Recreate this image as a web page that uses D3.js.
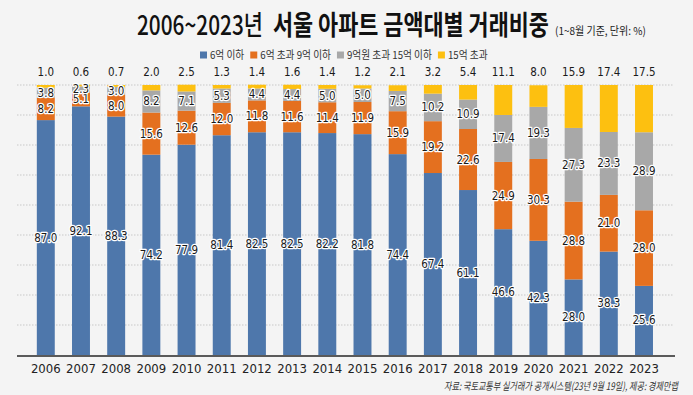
<!DOCTYPE html>
<html>
<head>
<meta charset="utf-8">
<script src="https://cdn.jsdelivr.net/npm/d3@7"></script>
<style>
  html, body { margin: 0; padding: 0; background: #f4f4f4; }
  svg { display: block; }
</style>
</head>
<body>
<div id="chart"></div>
<script>
const years = ["2006","2007","2008","2009","2010","2011","2012","2013","2014","2015","2016","2017","2018","2019","2020","2021","2022","2023"];

const seriesNames = ["6억 이하", "6억 초과 9억 이하", "9억원 초과 15억 이하", "15억 초과"];
const seriesColors = ["#4e77ab", "#e4701f", "#a8a8a8", "#fdc010"];

const under6 = [87.0, 92.1, 88.3, 74.2, 77.9, 81.4, 82.5, 82.5, 82.2, 81.8, 74.4, 67.4, 61.1, 46.6, 42.3, 28.0, 38.3, 25.6];
const from6to9 = [8.2, 5.1, 8.0, 15.6, 12.6, 12.0, 11.8, 11.6, 11.4, 11.9, 15.9, 19.2, 22.6, 24.9, 30.3, 28.8, 21.0, 28.0];
const from9to15 = [3.8, 2.3, 3.0, 8.2, 7.1, 5.3, 4.4, 4.4, 5.0, 5.0, 7.5, 10.2, 10.9, 17.4, 19.3, 27.3, 23.3, 28.9];
const over15 = [1.0, 0.6, 0.7, 2.0, 2.5, 1.3, 1.4, 1.6, 1.4, 1.2, 2.1, 3.2, 5.4, 11.1, 8.0, 15.9, 17.4, 17.5];

const gridCount = 9; // gridlines split 0-100 into 9 parts

const width = 693, height = 395;
const numFont = "'Liberation Sans Narrow', 'DejaVu Sans Condensed', 'Arial Narrow', 'Noto Sans CJK KR', sans-serif";
const krFont = "'Noto Sans CJK KR', sans-serif";

const table = years.map((yr, i) => ({
  year: yr, s0: under6[i], s1: from6to9[i], s2: from9to15[i], s3: over15[i]
}));
const keys = ["s0", "s1", "s2", "s3"];
const stacked = d3.stack().keys(keys)(table);

const svg = d3.select("#chart").append("svg")
  .attr("width", width).attr("height", height)
  .attr("viewBox", [0, 0, width, height]);

svg.append("rect").attr("width", width).attr("height", height).attr("fill", "#f4f4f4");

const x = d3.scaleBand()
  .domain(years)
  .range([28.2, 661.6])
  .paddingInner(0.49)
  .paddingOuter(0.245);

const y = d3.scaleLinear()
  .domain([0, 100])
  .range([355, 85]);

// squeeze a text horizontally to a given width (the picture uses a condensed face)
function squeeze(sel, x0, y0, w, anchor) {
  const nat = sel.node().getComputedTextLength();
  const k = w / nat;
  const left = anchor === "end" ? x0 - w : x0;
  sel.attr("x", 0).attr("y", 0)
     .attr("text-anchor", "start")
     .attr("transform", `translate(${left},${y0}) scale(${k},1)`);
}

// gridlines
svg.append("g")
  .selectAll("line")
  .data(d3.range(1, gridCount + 1).map(i => i * 100 / gridCount))
  .join("line")
  .attr("x1", 17).attr("x2", 674)
  .attr("y1", d => y(d)).attr("y2", d => y(d))
  .attr("stroke", "#c8c8c8")
  .attr("stroke-dasharray", "1.5,1.5");

// bars
svg.append("g")
  .selectAll("g")
  .data(stacked)
  .join("g")
  .attr("fill", (d, i) => seriesColors[i])
  .selectAll("rect")
  .data(d => d)
  .join("rect")
  .attr("x", d => x(d.data.year))
  .attr("y", d => y(d[1]))
  .attr("height", d => y(d[0]) - y(d[1]))
  .attr("width", x.bandwidth());

// x axis
const xAxis = g => g.attr("transform", `translate(0,${y(0)})`)
  .call(d3.axisBottom(x).tickSize(0).tickPadding(9))
  .call(g => g.select(".domain").remove())
  .call(g => g.selectAll("text")
    .attr("font-family", numFont)
    .attr("font-size", 13)
    .attr("fill", "#222"));
svg.append("g").call(xAxis);

svg.append("line")
  .attr("x1", 17).attr("x2", 675)
  .attr("y1", y(0) + 1).attr("y2", y(0) + 1)
  .attr("stroke", "#5a5a5a")
  .attr("stroke-width", 2);

// value labels
const labels = svg.append("g")
  .attr("font-family", numFont)
  .attr("font-size", 11.5)
  .attr("text-anchor", "middle")
  .attr("fill", "#1a1a1a");

stacked.forEach((layer, li) => {
  labels.selectAll(null)
    .data(layer)
    .join("text")
    .attr("x", d => x(d.data.year) + x.bandwidth() / 2)
    .attr("y", d => li === 3 ? y(d[1]) - 13 : (y(d[0]) + y(d[1])) / 2)
    .attr("dy", "0.35em")
    .attr("stroke", li === 3 ? "none" : "#fff")
    .attr("stroke-width", 2.4)
    .attr("stroke-linejoin", "round")
    .attr("paint-order", "stroke")
    .text(d => d3.format(".1f")(d[1] - d[0]));
});

// title
const t1 = svg.append("text")
  .attr("font-family", krFont)
  .attr("font-size", 27)
  .attr("font-weight", 500)
  .attr("fill", "#111")
  .text("2006~2023년");
squeeze(t1, 137, 35, 126);

const t2 = svg.append("text")
  .attr("font-family", krFont)
  .attr("font-size", 27)
  .attr("font-weight", 700)
  .attr("fill", "#111")
  .text("서울 아파트 금액대별 거래비중");
squeeze(t2, 273, 35, 276);

const t3 = svg.append("text")
  .attr("font-family", krFont)
  .attr("font-size", 11)
  .attr("fill", "#222")
  .text("(1~8월 기준, 단위: %)");
squeeze(t3, 555, 35, 91);

// legend
const legend = svg.append("g").attr("transform", "translate(200,55)");
let lx = 0;
seriesNames.forEach((name, i) => {
  legend.append("rect")
    .attr("x", lx).attr("y", -3.5)
    .attr("width", 7).attr("height", 7)
    .attr("fill", seriesColors[i]);
  const t = legend.append("text")
    .attr("dy", "0.35em")
    .attr("font-family", krFont)
    .attr("font-size", 11)
    .attr("fill", "#333")
    .text(name);
  const w = t.node().getComputedTextLength() * 0.88;
  squeeze(t, lx + 10, 0, w);
  lx += 10 + w + 6;
});

// source
const src = svg.append("text")
  .attr("dy", "0.35em")
  .attr("font-family", krFont)
  .attr("font-size", 10.5)
  .attr("font-style", "italic")
  .attr("fill", "#333")
  .text("자료: 국토교통부 실거래가 공개시스템(23년 9월 19일), 제공: 경제만랩");
squeeze(src, 678, 386, 234, "end");
</script>
</body>
</html>
